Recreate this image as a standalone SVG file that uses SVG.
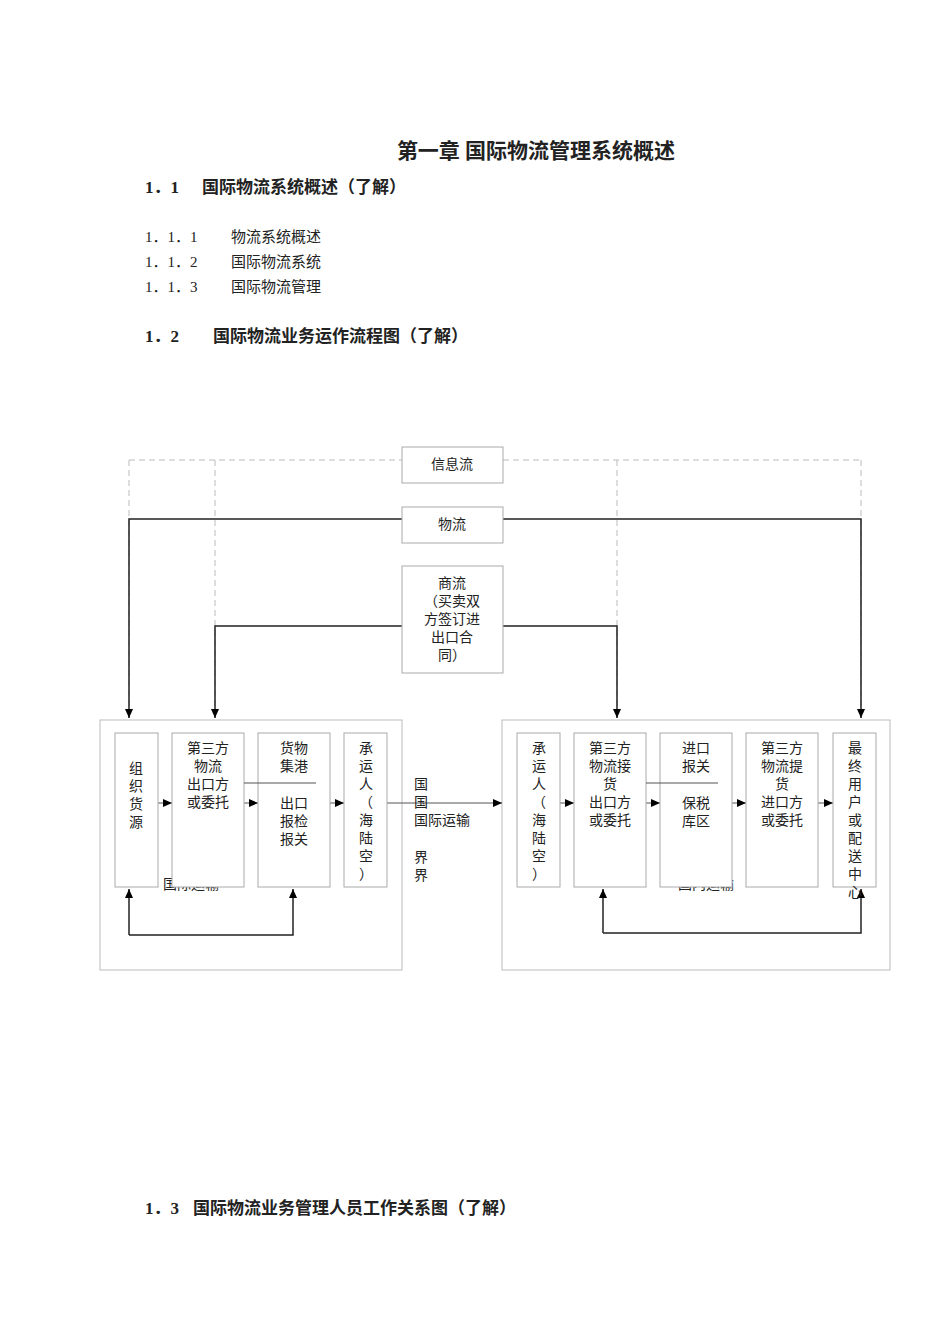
<svg xmlns="http://www.w3.org/2000/svg" width="950" height="1344" viewBox="0 0 950 1344">
<style>
text{font-family:"Liberation Serif","Noto Sans CJK SC",serif;font-size:14px;fill:#222}
.h{font-weight:bold;font-size:17px}
.c{text-anchor:middle}
.b{fill:#fff;stroke:#aaa;stroke-width:1}
.o{fill:none;stroke:#bbb;stroke-width:1}
.d{fill:none;stroke:#bbb;stroke-dasharray:6,4}
.s{fill:none;stroke:#222;stroke-width:1.5}
.t{fill:none;stroke:#555;stroke-width:1}
.l{font-size:15px}
</style>
<defs><marker id="a" markerWidth="10" markerHeight="10" refX="9" refY="5" orient="auto" markerUnits="userSpaceOnUse"><path d="M0,1 L9,5 L0,9Z" fill="#000"/></marker></defs>
<rect width="950" height="1344" fill="#fff"/>
<text x="536" y="158" class="c" style="font-size:21px;font-weight:bold">第一章 国际物流管理系统概述</text>
<text x="145" y="193" class="h">1．1</text><text x="202" y="193" class="h">国际物流系统概述（了解）</text>
<text x="145" y="242" class="l">1．1．1</text><text x="231" y="242" class="l">物流系统概述</text>
<text x="145" y="267" class="l">1．1．2</text><text x="231" y="267" class="l">国际物流系统</text>
<text x="145" y="292" class="l">1．1．3</text><text x="231" y="292" class="l">国际物流管理</text>
<text x="145" y="342" class="h">1．2</text><text x="213" y="342" class="h">国际物流业务运作流程图（了解）</text>
<text x="145" y="1214" class="h">1．3</text><text x="193" y="1214" class="h">国际物流业务管理人员工作关系图（了解）</text>
<g id="outer">
<rect class="o" x="100" y="720" width="302" height="250"/>
<rect class="o" x="502" y="720" width="388" height="250"/>
</g>
<g id="hidden-labels">
<text x="163" y="889">国际运输</text>
<text x="678" y="889">国内运输</text>
</g>
<g id="connectors">
<path class="d" d="M129,460 H402 M503,460 H861 M129,460 V720 M215,460 V720 M617,460 V720 M861,460 V720"/>
<path class="s" d="M402,519 H129 V718" marker-end="url(#a)"/>
<path class="s" d="M503,519 H861 V718" marker-end="url(#a)"/>
<path class="s" d="M402,626 H215 V718" marker-end="url(#a)"/>
<path class="s" d="M503,626 H617 V718" marker-end="url(#a)"/>
<path class="t" d="M158,803 H172" marker-end="url(#a)"/>
<path class="t" d="M244,803 H258" marker-end="url(#a)"/>
<path class="t" d="M330,803 H344" marker-end="url(#a)"/>
<path class="t" d="M387,803 H502" marker-end="url(#a)"/>
<path class="t" d="M560,803 H574" marker-end="url(#a)"/>
<path class="t" d="M646,803 H660" marker-end="url(#a)"/>
<path class="t" d="M732,803 H746" marker-end="url(#a)"/>
<path class="t" d="M818,803 H833" marker-end="url(#a)"/>
<path class="s" d="M129,935 H293 V889" marker-end="url(#a)"/>
<path class="s" d="M129,935 V889" marker-end="url(#a)"/>
<path class="s" d="M603,933 H861 V889" marker-end="url(#a)"/>
<path class="s" d="M603,933 V889" marker-end="url(#a)"/>
</g>
<g id="info"><rect class="b" x="402" y="447" width="101" height="36"/><text x="452" y="469" class="c">信息流</text></g>
<g id="wuliu"><rect class="b" x="402" y="507" width="101" height="36"/><text x="452" y="529" class="c">物流</text></g>
<g id="shangliu"><rect class="b" x="402" y="566" width="101" height="107"/>
<text class="c"><tspan x="452" y="588">商流</tspan><tspan x="452" y="606">（买卖双</tspan><tspan x="452" y="624">方签订进</tspan><tspan x="452" y="642">出口合</tspan><tspan x="452" y="660">同）</tspan></text></g>
<g id="n1"><rect class="b" x="115" y="733" width="43" height="154"/>
<text class="c"><tspan x="136" y="773">组</tspan><tspan x="136" y="791">织</tspan><tspan x="136" y="809">货</tspan><tspan x="136" y="827">源</tspan></text></g>
<g id="n2"><rect class="b" x="172" y="733" width="72" height="154"/>
<text class="c"><tspan x="208" y="753">第三方</tspan><tspan x="208" y="771">物流</tspan><tspan x="208" y="789">出口方</tspan><tspan x="208" y="807">或委托</tspan></text></g>
<g id="n3"><rect class="b" x="258" y="733" width="72" height="154"/>
<text class="c"><tspan x="294" y="753">货物</tspan><tspan x="294" y="771">集港</tspan><tspan x="294" y="808">出口</tspan><tspan x="294" y="826">报检</tspan><tspan x="294" y="844">报关</tspan></text></g>
<g id="n4"><rect class="b" x="344" y="733" width="43" height="154"/>
<text class="c"><tspan x="366" y="753">承</tspan><tspan x="366" y="771">运</tspan><tspan x="366" y="789">人</tspan><tspan x="366" y="807">（</tspan><tspan x="366" y="825">海</tspan><tspan x="366" y="843">陆</tspan><tspan x="366" y="861">空</tspan><tspan x="366" y="879">）</tspan></text></g>
<g id="border-label"><text><tspan x="414" y="789">国</tspan><tspan x="414" y="807">国</tspan><tspan x="414" y="825">国际运输</tspan><tspan x="414" y="862">界</tspan><tspan x="414" y="880">界</tspan></text></g>
<g id="m1"><rect class="b" x="517" y="733" width="43" height="154"/>
<text class="c"><tspan x="539" y="753">承</tspan><tspan x="539" y="771">运</tspan><tspan x="539" y="789">人</tspan><tspan x="539" y="807">（</tspan><tspan x="539" y="825">海</tspan><tspan x="539" y="843">陆</tspan><tspan x="539" y="861">空</tspan><tspan x="539" y="879">）</tspan></text></g>
<g id="m2"><rect class="b" x="574" y="733" width="72" height="154"/>
<text class="c"><tspan x="610" y="753">第三方</tspan><tspan x="610" y="771">物流接</tspan><tspan x="610" y="789">货</tspan><tspan x="610" y="807">出口方</tspan><tspan x="610" y="825">或委托</tspan></text></g>
<g id="m3"><rect class="b" x="660" y="733" width="72" height="154"/>
<text class="c"><tspan x="696" y="753">进口</tspan><tspan x="696" y="771">报关</tspan><tspan x="696" y="808">保税</tspan><tspan x="696" y="826">库区</tspan></text></g>
<g id="m4"><rect class="b" x="746" y="733" width="72" height="154"/>
<text class="c"><tspan x="782" y="753">第三方</tspan><tspan x="782" y="771">物流提</tspan><tspan x="782" y="789">货</tspan><tspan x="782" y="807">进口方</tspan><tspan x="782" y="825">或委托</tspan></text></g>
<g id="m5"><rect class="b" x="833" y="733" width="43" height="154"/>
<text class="c"><tspan x="855" y="753">最</tspan><tspan x="855" y="771">终</tspan><tspan x="855" y="789">用</tspan><tspan x="855" y="807">户</tspan><tspan x="855" y="825">或</tspan><tspan x="855" y="843">配</tspan><tspan x="855" y="861">送</tspan><tspan x="855" y="879">中</tspan><tspan x="855" y="897">心</tspan></text></g>
<g id="dividers"><path class="t" d="M244,783 H316 M646,783 H718"/></g>
</svg>
